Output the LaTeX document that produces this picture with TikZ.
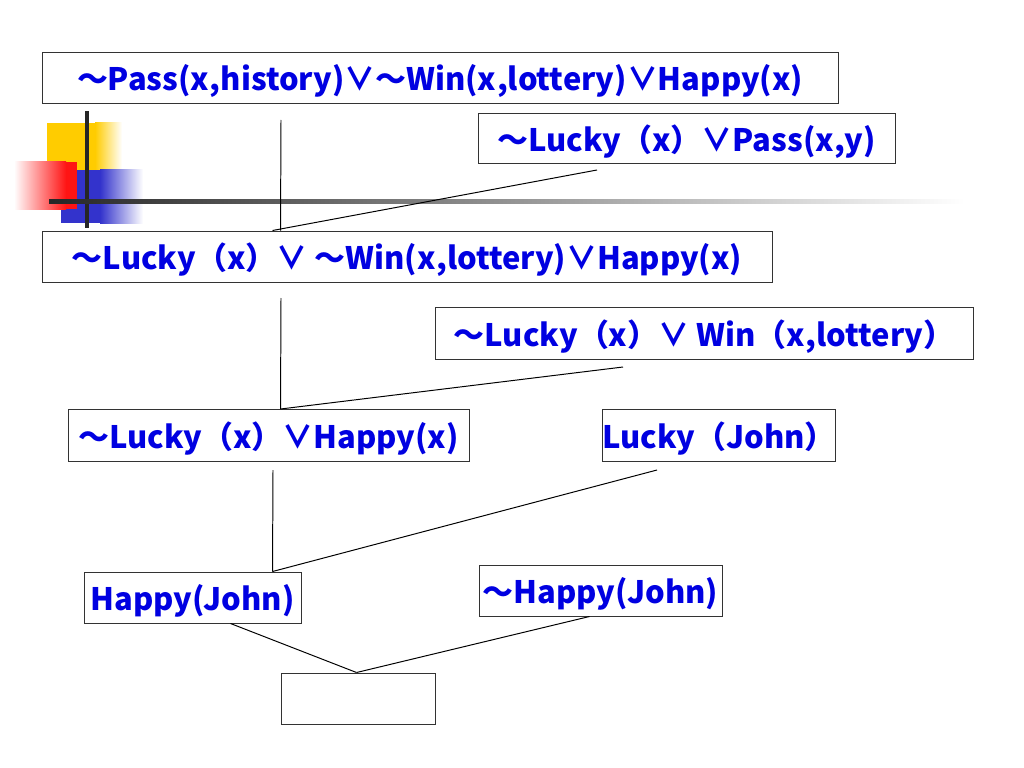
\documentclass[tikz,border=0pt]{standalone}
\usepackage{fontspec}
\newfontfamily\cjk{Noto Sans CJK SC}
\usetikzlibrary{calc,positioning}
\definecolor{clauseblue}{RGB}{0,0,225}
\definecolor{decoyellow}{RGB}{255,204,0}
\definecolor{decored}{RGB}{255,20,20}
\definecolor{decoblue}{RGB}{51,51,204}

\begin{document}
\begin{tikzpicture}[
                x=0.025cm,y=-0.025cm,
                clause/.style={rectangle,draw=black!80,line width=0.7pt,inner sep=0pt,
                    text height=0.66cm,text depth=0pt,
                    text=clauseblue,font=\cjk\bfseries\fontsize{22}{26}\selectfont},
                boxsize/.style 2 args={minimum width=#1*0.025cm,minimum height=#2*0.025cm},
                link/.style={line width=0.7pt}
            ]
                \useasboundingbox (0,0) rectangle (1024,768);
                \fill[decoyellow] (47,123) rectangle (95,170);
                \shade[left color=decoyellow,right color=white] (95,123) rectangle (122,170);
                \fill[decoblue] (61,170) rectangle (100,223);
                \shade[left color=decoblue,right color=white] (100,170) rectangle (143,223);
                \shade[left color=white,right color=decored] (14,162) rectangle (66,209);
                \fill[decored] (66,162) rectangle (77,209);
                \draw[line width=2.5pt,black!85] (87,111) -- (87,228);
                \shade[left color=black!85,right color=white] (49,199) rectangle (965,203);

                \node[clause,boxsize={796}{51}] (pass)       at (440,77.5)  {～Pass(x,history)∨～Win(x,lottery)∨Happy(x)};
                \node[clause,boxsize={417}{50}] (luckypass)  at (686.5,138) {～Lucky（x）∨Pass(x,y)};
                \node[clause,boxsize={730}{51}] (luckywin)   at (407,256.5) {～Lucky（x）∨ ～Win(x,lottery)∨Happy(x)};
                \node[clause,boxsize={538}{52}] (luckylot)   at (704,333)   {～Lucky（x）∨ Win（x,lottery）};
                \node[clause,boxsize={401}{52}] (luckyhappy) at (268.5,435.5) {～Lucky（x）∨Happy(x)};
                \node[clause,boxsize={228}{52}] (luckyjohn)  at (719,435.5) {Lucky（John）};
                \node[clause,boxsize={217}{51}] (happyjohn)  at (192.5,597.5) {Happy(John)};
                \node[clause,boxsize={243}{51}] (nothappy)   at (600.5,590.5) {～Happy(John)};
                \node[clause,boxsize={154}{51}] (empty)      at (358,698.5) {};

                \coordinate (a1) at (281,120);
                \coordinate (a2) at (597,170);
                \coordinate (a3) at (281,298);
                \coordinate (a4) at (623,367);
                \coordinate (a5) at (273,470);
                \coordinate (a6) at (657,470);
                \draw[link] (a1) -- ($(luckywin.north west)+(239,0)$);
                \draw[link] (a2) -- ($(luckywin.north west)+(231,0)$);
                \draw[link] (a3) -- ($(luckyhappy.north west)+(213,0)$);
                \draw[link] (a4) -- ($(luckyhappy.north west)+(213,0)$);
                \draw[link] (a5) -- ($(happyjohn.north west)+(189,0)$);
                \draw[link] (a6) -- ($(happyjohn.north west)+(189,0)$);
                \draw[link] ($(happyjohn.south west)+(147,0)$) -- ($(empty.north west)+(76,0)$);
                \draw[link] ($(nothappy.south west)+(111,0)$) -- ($(empty.north west)+(76,0)$);
            \end{tikzpicture}
\end{document}
